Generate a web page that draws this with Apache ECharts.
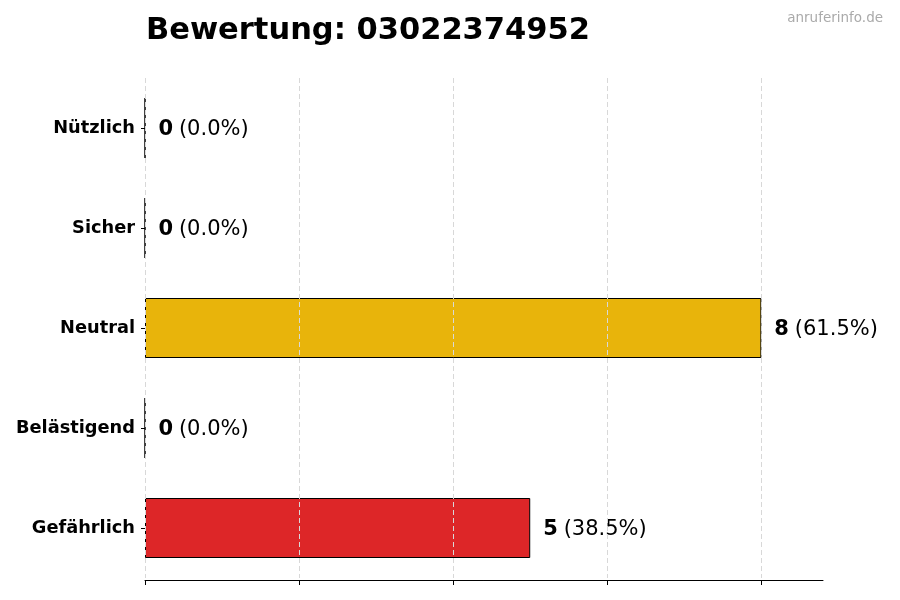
<!DOCTYPE html>
<html>
<head>
<meta charset="utf-8">
<script src="https://cdn.jsdelivr.net/npm/echarts@6/dist/echarts.min.js"></script>
<style>
  html, body { margin: 0; padding: 0; background: #fff; }
  #chart { width: 900px; height: 600px; }
</style>
</head>
<body>
<div id="chart"></div>
<script>
// Kategorien von oben nach unten
var categories = ['Nützlich', 'Sicher', 'Neutral', 'Belästigend', 'Gefährlich'];
var counts = [0, 0, 8, 0, 5];
var percents = ['0.0%', '0.0%', '61.5%', '0.0%', '38.5%'];
var barColors = ['#2e9e4a', '#3b82f6', '#e8b40b', '#f97316', '#dd2628'];
var xTicks = [0, 2, 4, 6, 8];

var font = 'DejaVu Sans';

var chart = echarts.init(document.getElementById('chart'));

var data = counts.map(function (v, i) {
    return { value: v, itemStyle: { color: barColors[i] } };
});

chart.setOption({
    animation: false,
    textStyle: { fontFamily: font },
    title: [{
        text: 'Bewertung: 03022374952',
        left: 141,
        top: 11,
        textStyle: { fontFamily: font, fontSize: 30.5, fontWeight: 'bold', color: '#000' }
    }, {
        text: 'anruferinfo.de',
        right: 12,
        top: 6,
        textStyle: { fontFamily: font, fontSize: 13.5, fontWeight: 'normal', color: '#aaaaaa' }
    }],
    grid: { left: 145, right: 77, top: 78, height: 500 },
    xAxis: {
        type: 'value',
        min: 0,
        max: 8.8,
        interval: 2,
        z: 5,
        offset: 2,
        axisLine: { show: true, lineStyle: { color: '#000', width: 1 } },
        axisTick: { show: true, length: 5, lineStyle: { color: '#000' }, customValues: xTicks },
        axisLabel: { show: false },
        splitLine: { show: true, lineStyle: { color: '#d8d8d8', type: [5, 3], width: 1 } }
    },
    yAxis: {
        type: 'category',
        inverse: true,
        data: categories,
        axisLine: { show: false },
        axisTick: { show: true, length: 4, alignWithLabel: true, lineStyle: { color: '#000' } },
        axisLabel: { fontFamily: font, fontSize: 17.8, fontWeight: 'bold', color: '#000', margin: 10, padding: [11, 0, 0, 0] }
    },
    series: [{
        type: 'bar',
        data: data,
        barWidth: '60%',
        itemStyle: { borderColor: '#000', borderWidth: 1 },
        label: {
            show: true,
            position: 'right',
            distance: 13,
            padding: [4, 0, 0, 0],
            formatter: function (p) {
                return '{b|' + p.value + '} {n|(' + percents[p.dataIndex] + ')}';
            },
            rich: {
                b: { fontFamily: font, fontSize: 21, fontWeight: 'bold', color: '#000' },
                n: { fontFamily: font, fontSize: 21, color: '#000', padding: [0, 0, 0, 2] }
            }
        }
    }]
});
</script>
</body>
</html>
